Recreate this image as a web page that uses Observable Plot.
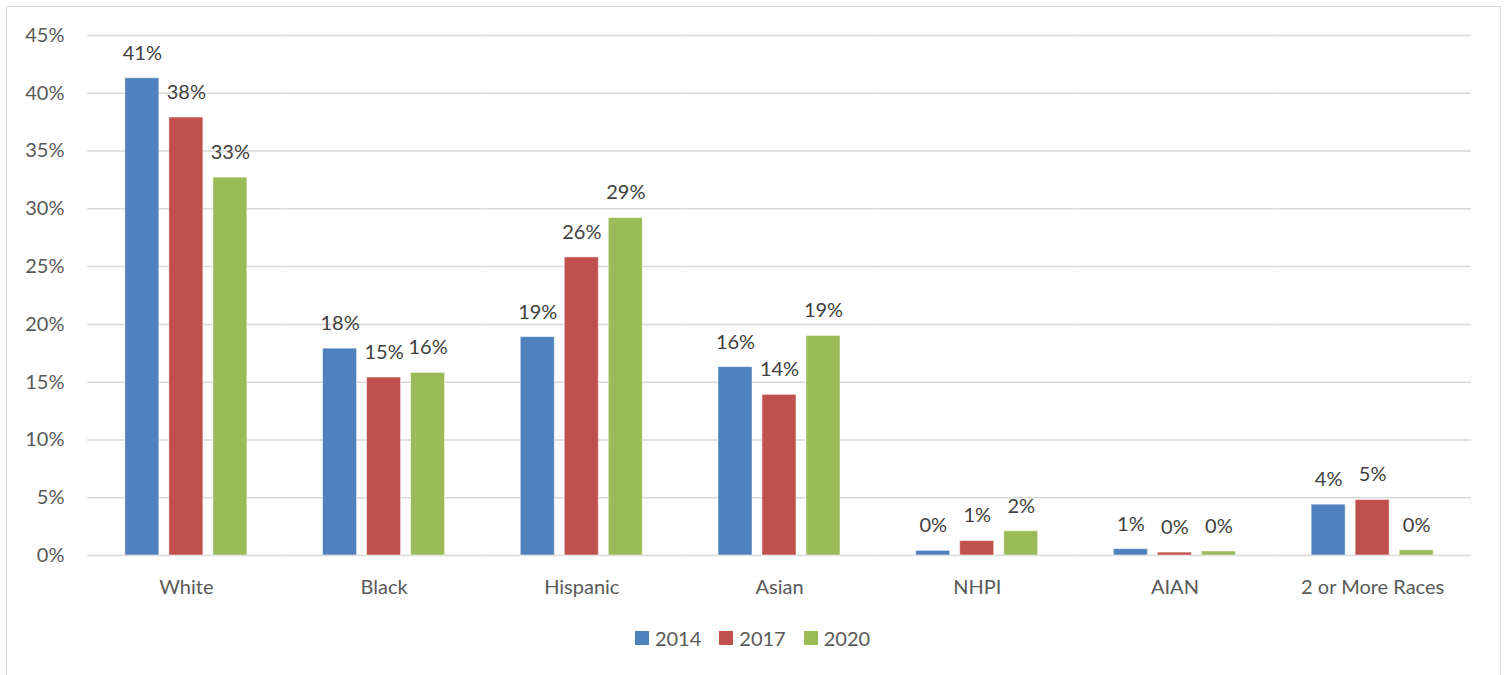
<!DOCTYPE html>
<html>
<head>
<meta charset="utf-8">
<script src="https://cdn.jsdelivr.net/npm/d3@7"></script>
<script src="https://cdn.jsdelivr.net/npm/@observablehq/plot@0.6"></script>
<style>
  body { margin: 0; background: #fff; width: 1505px; height: 675px; overflow: hidden; position: relative; }
  #frame { position: absolute; left: 6px; top: 6px; width: 1495px; height: 700px; border: 1.5px solid #d9d9d9; box-sizing: border-box; }
  #chart { position: absolute; left: 0; top: 0; }
  #legend { position: absolute; left: 0; top: 626px; width: 1505px; display: flex; justify-content: center; font-family: Lato, "Open Sans", sans-serif; font-size: 20px; color: #595959; }
  #legend .item { display: flex; align-items: center; margin: 0 9px; }
  #legend .sw { width: 14px; height: 14px; margin-right: 6px; }
</style>
</head>
<body>
<div id="frame"></div>
<div id="chart"></div>
<div id="legend"></div>
<script>
const categories = ["White", "Black", "Hispanic", "Asian", "NHPI", "AIAN", "2 or More Races"];
const years = ["2014", "2017", "2020"];
const colors = ["#4f81bd", "#c0504d", "#9bbb59"];
const v2014 = [41.3, 17.9, 18.9, 16.3, 0.4, 0.55, 4.4];
const v2017 = [37.9, 15.4, 25.8, 13.9, 1.25, 0.25, 4.8];
const v2020 = [32.7, 15.8, 29.2, 19.0, 2.1, 0.35, 0.45];
const yTicks = [0, 5, 10, 15, 20, 25, 30, 35, 40, 45];

const series = [v2014, v2017, v2020];
const data = [];
categories.forEach((c, i) => {
  years.forEach((y, j) => data.push({cat: c, year: y, value: series[j][i]}));
});

const font = 'Lato, "Open Sans", sans-serif';

const chart = Plot.plot({
  width: 1505,
  height: 610,
  marginTop: 35,
  marginBottom: 55,
  marginLeft: 87,
  marginRight: 34,
  style: {fontFamily: font, fontSize: "20px", color: "#595959", background: "transparent", overflow: "visible"},
  fx: {domain: categories, paddingInner: 0, paddingOuter: 0, round: false, label: null, axis: "bottom", tickSize: 0, tickPadding: 24},
  x: {domain: years, paddingInner: 0.227, paddingOuter: 0.86, round: false, axis: null},
  y: {domain: [0, 45], ticks: yTicks, tickFormat: d => d + "%", label: null, tickSize: 0, tickPadding: 23},
  color: {domain: years, range: colors},
  marks: [
    Plot.ruleY(yTicks, {stroke: "#d9d9d9", strokeWidth: 1.5}),
    Plot.barY(data, {fx: "cat", x: "year", y: "value", fill: "year", stroke: "#ffffff", strokeOpacity: 0.5, strokeWidth: 1}),
    Plot.text(data, {fx: "cat", x: "year", y: "value", text: d => Math.round(d.value) + "%", dy: -25, fill: "#404040", fontSize: 20})
  ]
});
document.getElementById("chart").appendChild(chart);

const legend = document.getElementById("legend");
years.forEach((y, i) => {
  const item = document.createElement("div");
  item.className = "item";
  const sw = document.createElement("div");
  sw.className = "sw";
  sw.style.background = colors[i];
  const t = document.createElement("span");
  t.textContent = y;
  item.appendChild(sw);
  item.appendChild(t);
  legend.appendChild(item);
});
</script>
</body>
</html>
